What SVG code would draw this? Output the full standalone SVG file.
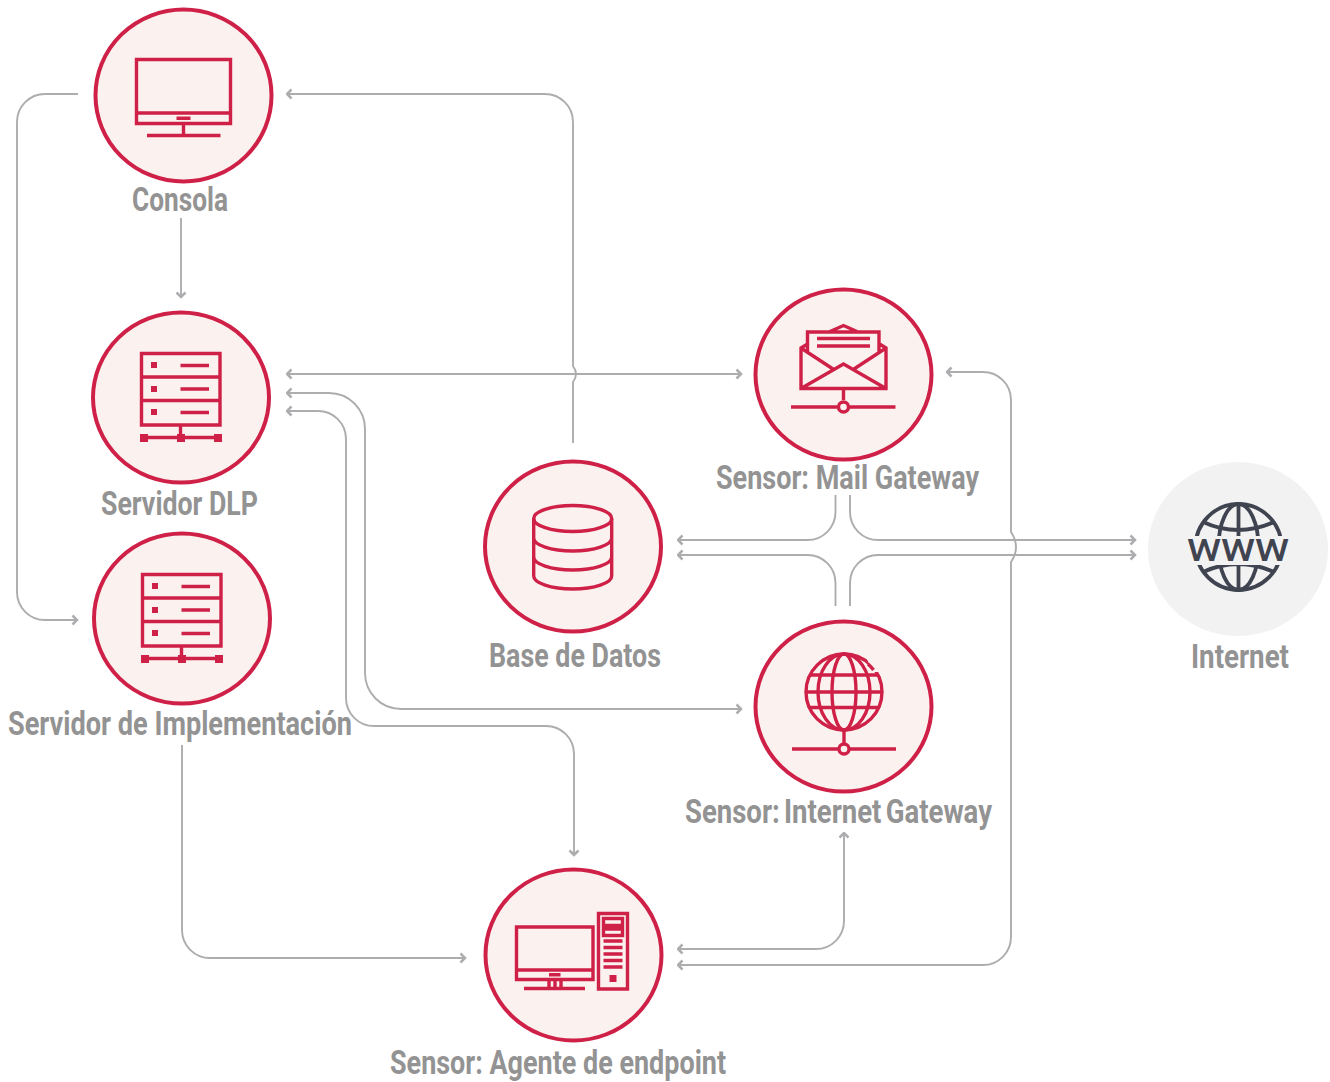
<svg xmlns="http://www.w3.org/2000/svg" width="1330" height="1082" viewBox="0 0 1330 1082">
<style>
.c{fill:#fbf2ef;stroke:#cf2148;stroke-width:4}
.i{fill:none;stroke:#cf2148;stroke-width:3.400}
.s{fill:#cf2148;stroke:none}
.w{fill:none;stroke:#3f4450;stroke-width:3.800}
.l{fill:#939393;font-family:Roboto,"Liberation Sans",sans-serif;font-weight:700;font-size:33px}
.k{fill:none;stroke:#adadaf;stroke-width:1.900}
</style>
<defs>
<marker id="a" viewBox="0 0 12 12" refX="10.500" refY="6" markerWidth="12" markerHeight="12" markerUnits="userSpaceOnUse" orient="auto-start-reverse"><path d="M6 1.500L10.500 6L6 10.500" fill="none" stroke="#adadaf" stroke-width="2.500"/></marker>
<clipPath id="gc"><rect x="1180" y="495" width="120" height="41"/><rect x="1180" y="565" width="120" height="35"/></clipPath>
<clipPath id="gg"><path d="M790 640H858L873 672H900V740H790Z"/></clipPath>
</defs>
<g id="connectors" class="k">
<path marker-end="url(#a)" d="M78 94H45A28 28 0 0 0 17 122V592A28 28 0 0 0 45 620H77"/>
<path marker-end="url(#a)" d="M573 443V382Q579 374 573 366V122A28 28 0 0 0 545 94H287"/>
<path marker-end="url(#a)" d="M181 218V297"/>
<path marker-start="url(#a)" marker-end="url(#a)" d="M287 374H741"/>
<path marker-start="url(#a)" marker-end="url(#a)" d="M287 393H329A36 36 0 0 1 365 429V673A36 36 0 0 0 401 709H741"/>
<path marker-start="url(#a)" marker-end="url(#a)" d="M287 411H318A28 28 0 0 1 346 439V698A28 28 0 0 0 374 726H546A28 28 0 0 1 574 754V855"/>
<path marker-end="url(#a)" d="M182 745V930A28 28 0 0 0 210 958H465"/>
<path marker-start="url(#a)" marker-end="url(#a)" d="M678 949H816A28 28 0 0 0 844 921V833"/>
<path marker-start="url(#a)" marker-end="url(#a)" d="M678 965H983A28 28 0 0 0 1011 937V562Q1021 547 1011 532V400A28 28 0 0 0 983 372H947"/>
<path marker-end="url(#a)" d="M835.500 495V512A28 28 0 0 1 807.500 540H678"/>
<path marker-end="url(#a)" d="M850 495V512A28 28 0 0 0 878 540H1135"/>
<path marker-end="url(#a)" d="M835.500 606V583A28 28 0 0 0 807.500 555H678"/>
<path marker-end="url(#a)" d="M850 606V583A28 28 0 0 1 878 555H1135"/>
</g>
<g id="consola">
<ellipse class="c" cx="183.500" cy="95.500" rx="88" ry="86"/>
<path class="i" d="M136.500 59.500H230.500V123.500H136.500ZM136.500 113H230.500M183.500 124V135.500M147 135.500H220.500"/>
<rect class="s" x="176.500" y="116.500" width="14" height="3.500"/>
<text class="l" x="132" y="211" textLength="96" lengthAdjust="spacingAndGlyphs">Consola</text>
</g>
<g id="servidor-dlp">
<ellipse class="c" cx="181" cy="397.500" rx="88" ry="85"/>
<path class="i" d="M141.500 353.500H220V425H141.500ZM141.500 377H220M141.500 400.500H220M180.500 365.500H209M180.500 389H209M180.500 412.500H209M180.500 425V437.500M144 437.500H218"/>
<path class="s" d="M151 362h6v6h-6zM151 386h6v6h-6zM151 409h6v6h-6zM140 434h8v8h-8zM177 434h8v8h-8zM214 434h8v8h-8z"/>
<text class="l" x="101" y="515" textLength="157" lengthAdjust="spacingAndGlyphs">Servidor DLP</text>
</g>
<g id="servidor-implementacion">
<ellipse class="c" cx="182" cy="618.500" rx="88" ry="85"/>
<path class="i" d="M142.500 574.500H221V646H142.500ZM142.500 598H221M142.500 621.500H221M181.500 586.500H210M181.500 610H210M181.500 633.500H210M181.500 646V658.500M145 658.500H219"/>
<path class="s" d="M152 583h6v6h-6zM152 607h6v6h-6zM152 630h6v6h-6zM141 655h8v8h-8zM178 655h8v8h-8zM215 655h8v8h-8z"/>
<text class="l" x="8" y="735" textLength="344" lengthAdjust="spacingAndGlyphs">Servidor de Implementación</text>
</g>
<g id="base-de-datos">
<ellipse class="c" cx="573" cy="546.500" rx="88" ry="85"/>
<g class="i"><ellipse cx="572.700" cy="518.500" rx="39" ry="13"/>
<path d="M533.700 518.500V576C533.700 583 551 589 572.700 589S611.700 583 611.700 576V518.500M533.700 538C533.700 545 551 551 572.700 551S611.700 545 611.700 538M533.700 557C533.700 564 551 570 572.700 570S611.700 564 611.700 557"/></g>
<text class="l" x="489" y="667" textLength="172" lengthAdjust="spacingAndGlyphs">Base de Datos</text>
</g>
<g id="sensor-mail">
<ellipse class="c" cx="843.500" cy="374.500" rx="88" ry="85"/>
<path class="i" d="M807.500 352V332H879V352M830 331.500L843.500 325.500L857 331.500M807.500 344L801 348V388.500H886V348L879.500 344M801 348L833 369M886 348L854 369M801 388.500L843.500 364L886 388.500M817 338.500H870M817 346H870M843.500 389V400"/>
<path class="i" d="M791 407H837.500M849.500 407H895.500"/><circle class="i" cx="843.500" cy="407" r="5"/>
<text class="l" x="716" y="489" textLength="263" lengthAdjust="spacingAndGlyphs">Sensor: Mail Gateway</text>
</g>
<g id="sensor-internet">
<ellipse class="c" cx="843.500" cy="706.500" rx="88" ry="85"/>
<g class="i"><g clip-path="url(#gg)"><circle cx="844" cy="692" r="38"/></g>
<path d="M868 664A38 38 0 0 1 873.500 670"/>
<ellipse cx="844" cy="692" rx="12" ry="38"/><ellipse cx="844" cy="692" rx="26" ry="38"/>
<path d="M806 692H882M810 675H878M810 707.500H878M844 730V743M792 749H838M850 749H896"/><circle cx="844" cy="749" r="5"/></g>
<text class="l" x="685" y="823" textLength="307" lengthAdjust="spacingAndGlyphs" style="word-spacing:-3px">Sensor: Internet Gateway</text>
</g>
<g id="sensor-endpoint">
<ellipse class="c" cx="573.500" cy="955" rx="88" ry="85.500"/>
<path class="i" d="M516.500 927H593V979.500H516.500ZM516.500 970H593M549 980V988M555 980V988M561 980V988M524 988.500H585M598.500 913.500H627.500V989H598.500ZM603.500 918.500H622.500V925.500H603.500ZM603.500 929H622.500V935.500H603.500ZM603.500 941H622.500M603.500 947.500H622.500M603.500 954H622.500M603.500 960.500H622.500M603.500 967H622.500"/>
<path class="s" d="M549 973h11.500v3.500H549zM609.500 975h7v7h-7z"/>
<text class="l" x="390" y="1074" textLength="336" lengthAdjust="spacingAndGlyphs">Sensor: Agente de endpoint</text>
</g>
<g id="internet">
<ellipse cx="1238" cy="549" rx="90" ry="87" fill="#f2f2f2"/>
<g class="w" clip-path="url(#gc)"><circle cx="1238.500" cy="547" r="43"/><ellipse cx="1238.500" cy="547" rx="20" ry="43"/>
<path d="M1238.500 504V590M1203 522Q1238 538 1274 522M1203 572Q1238 556 1274 572"/></g>
<text x="1187" y="561" textLength="102" lengthAdjust="spacingAndGlyphs" fill="#3f4450" font-family="Roboto,'Liberation Sans',sans-serif" font-size="32px" font-weight="500">WWW</text>
<text class="l" x="1191" y="668" textLength="98" lengthAdjust="spacingAndGlyphs">Internet</text>
</g>
</svg>
